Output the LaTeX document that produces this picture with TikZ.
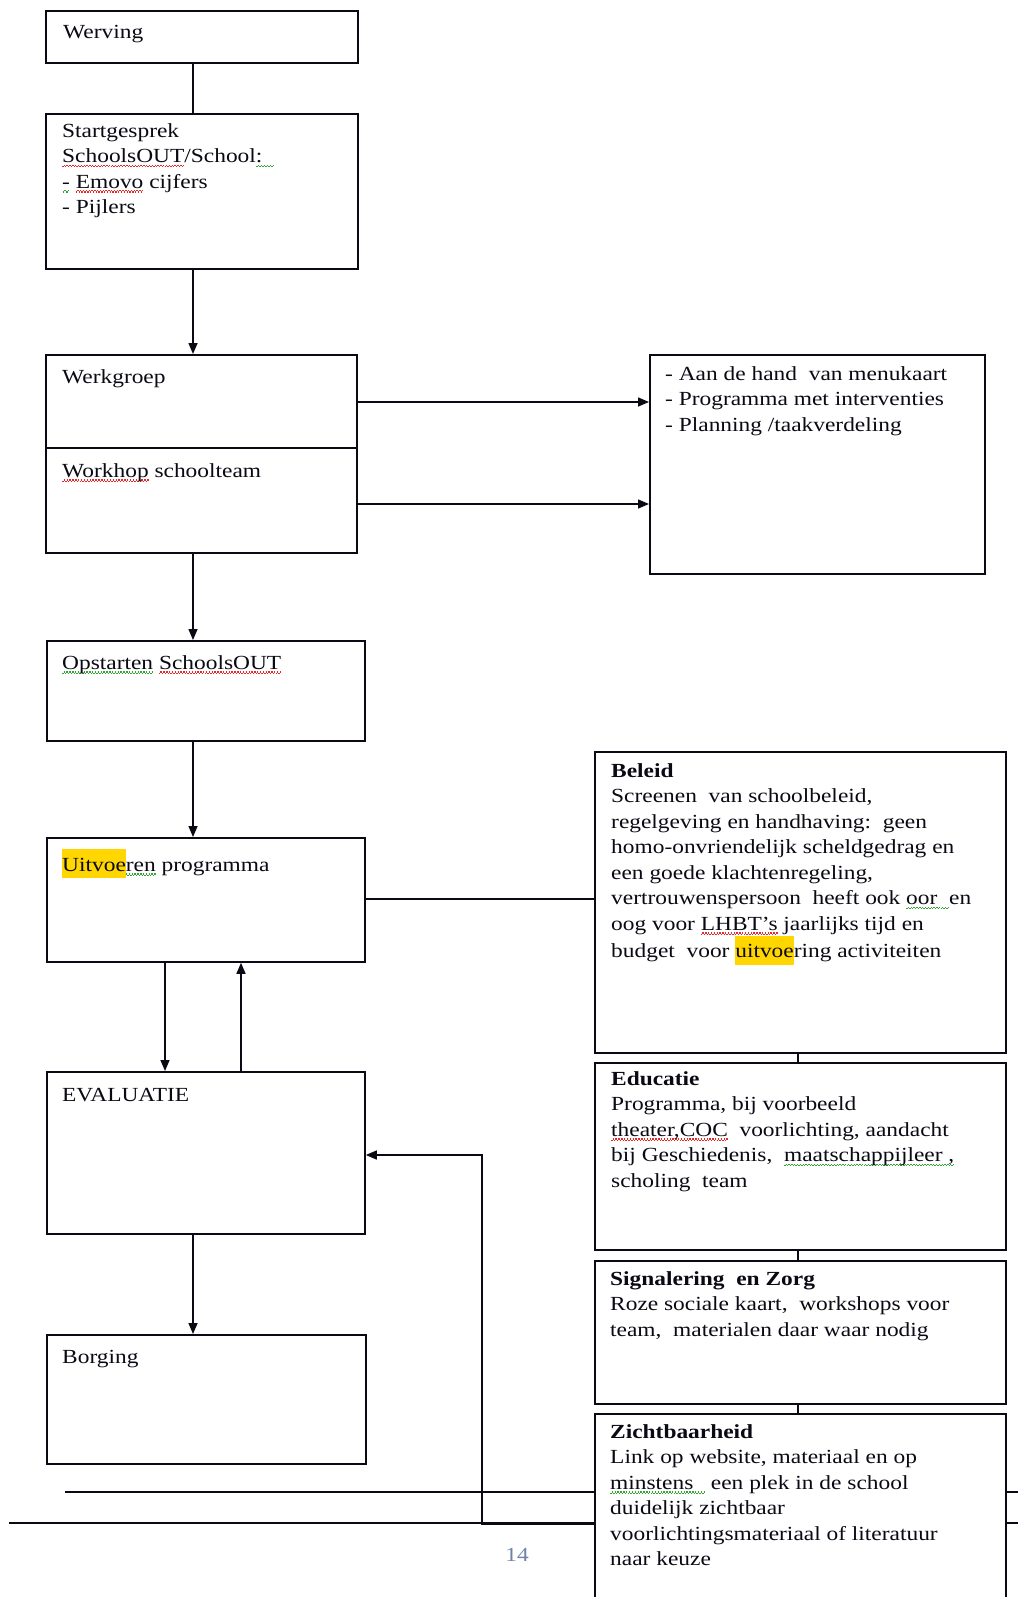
\documentclass[tikz,border=0pt]{standalone}
\usepackage{fontspec}
\setmainfont[FakeStretch=1.17]{Liberation Serif}
\usetikzlibrary{arrows.meta,calc}
\definecolor{hlc}{RGB}{255,214,0}
\definecolor{ink}{RGB}{10,10,20}
\definecolor{sqr}{RGB}{230,40,40}
\definecolor{sqg}{RGB}{50,165,50}
\definecolor{pgnum}{RGB}{110,130,170}
\newsavebox\hlbox
\newsavebox\sqbox
\newcommand\hlmark[1]{\sbox\hlbox{#1}{\color{hlc}\rule[-7pt]{\wd\hlbox}{29pt}}\kern-\wd\hlbox\usebox\hlbox}
\newcommand\squig[2]{\sbox\sqbox{#2}\rlap{\color{#1}\raisebox{-4.5pt}{\hbox to\wd\sqbox{\xleaders\hbox{\rule{1.4pt}{1.2pt}\raisebox{1.2pt}{\rule{1.4pt}{1.2pt}}}\hfill}}}\usebox\sqbox}
\newcommand\mybox[5]{\node[box, minimum width=#4pt, minimum height=#5pt] (#1) at (#2,#3) {};}
\newcommand\mytext[4]{\node[txt] (#1) at (#2,#3-17.85) {\strut #4};}
\begin{document}
\begin{tikzpicture}[x=1pt,y=-1pt,
  box/.style={draw=ink, line width=1.8pt, fill=white, anchor=north west, inner sep=0pt, rectangle},
  txt/.style={anchor=north west, inner sep=0pt, align=left, font=\fontsize{20}{25.5}\selectfont, text=ink},
  conn/.style={draw=ink, line width=1.5pt},
  arr/.style={conn, -{Triangle[length=11pt,width=9pt]}},
]
\useasboundingbox (0,0) rectangle (1018,1597);
\clip (0,0) rectangle (1018,1597);
% page footer rules
\draw[conn] (65,1492) -- (1018,1492);
\draw[conn] (9,1523) -- (1018,1523);
% boxes
\mybox{werving}{45}{10}{312}{52}
\mybox{start}{45}{113}{312}{155}
\mybox{werkgroep}{45}{354}{311}{93}
\mybox{workhop}{45}{447}{311}{105}
\mybox{menu}{649}{354}{335}{219}
\mybox{opstarten}{46}{640}{318}{100}
\mybox{uitvoeren}{46}{837}{318}{124}
\mybox{evaluatie}{46}{1071}{318}{162}
\mybox{borging}{46}{1334}{319}{129}
\mybox{beleid}{594}{751}{411}{301}
\mybox{educatie}{594}{1062}{411}{187}
\mybox{signalering}{594}{1260}{411}{143}
\mybox{zicht}{594}{1413}{411}{230}
% texts
\mytext{werving-t}{63}{38}{Werving}
\mytext{start-t}{62}{137}{Startgesprek\\\squig{sqr}{SchoolsOUT}/School\squig{sqg}{:\ \ }\\\squig{sqg}{-} \squig{sqr}{Emovo} cijfers\\- Pijlers}
\mytext{werkgroep-t}{62}{383}{Werkgroep}
\mytext{workhop-t}{62}{477}{\squig{sqr}{Workhop} schoolteam}
\mytext{menu-t}{665}{380}{- Aan de hand\ \ van menukaart\\- Programma met interventies\\- Planning /taakverdeling}
\mytext{opstarten-t}{62}{669}{\squig{sqg}{Opstarten} \squig{sqr}{SchoolsOUT}}
\mytext{uitvoeren-t}{62}{867}{\squig{sqg}{\hlmark{Uitvoe}ren} programma}
\mytext{evaluatie-t}{62}{1101}{EVALUATIE}
\mytext{borging-t}{62}{1363}{Borging}
\mytext{beleid-t}{611}{777}{\textbf{Beleid}\\Screenen\ \ van schoolbeleid,\\regelgeving en handhaving:\ \ geen\\homo-onvriendelijk scheldgedrag en\\een goede klachtenregeling,\\vertrouwenspersoon\ \ heeft ook \squig{sqg}{oor\ \ }en\\oog voor \squig{sqr}{LHBT's} jaarlijks tijd en\\budget\ \ voor \hlmark{uitvoe}ring activiteiten}
\mytext{educatie-t}{611}{1085}{\textbf{Educatie}\\Programma, bij voorbeeld\\\squig{sqr}{theater,COC}\ \ voorlichting, aandacht\\bij Geschiedenis,\ \ \squig{sqg}{maatschappijleer ,}\\scholing\ \ team}
\mytext{signalering-t}{610}{1285}{\textbf{Signalering\ \ en Zorg}\\Roze sociale kaart,\ \ workshops voor\\team,\ \ materialen daar waar nodig}
\mytext{zicht-t}{610}{1438}{\textbf{Zichtbaarheid}\\Link op website, materiaal en op\\\squig{sqg}{minstens\ \ }\ een plek in de school\\duidelijk zichtbaar\\voorlichtingsmateriaal of literatuur\\naar keuze}
\node[font=\fontsize{20}{22}\selectfont, text=pgnum, inner sep=0pt] (pnum) at (517,1555) {14};
% connectors
\coordinate (c1) at (193,0);
\coordinate (c2) at (165,0);
\coordinate (c3) at (241,0);
\coordinate (c4) at (798,0);
\coordinate (r1) at (0,402);
\coordinate (r2) at (0,504);
\coordinate (r3) at (0,899);
\coordinate (r4) at (0,1155);
\coordinate (fb) at (482,1524.5);
\draw[conn] (werving.south -| c1) -- (start.north -| c1);
\draw[arr] (start.south -| c1) -- (werkgroep.north -| c1);
\draw[arr] (werkgroep.east |- r1) -- (menu.west |- r1);
\draw[arr] (workhop.east |- r2) -- (menu.west |- r2);
\draw[arr] (workhop.south -| c1) -- (opstarten.north -| c1);
\draw[arr] (opstarten.south -| c1) -- (uitvoeren.north -| c1);
\draw[arr] (uitvoeren.south -| c2) -- (evaluatie.north -| c2);
\draw[arr] (evaluatie.north -| c3) -- (uitvoeren.south -| c3);
\draw[conn] (uitvoeren.east |- r3) -- (beleid.west |- r3);
\draw[arr] (evaluatie.south -| c1) -- (borging.north -| c1);
\draw[conn] (beleid.south -| c4) -- (educatie.north -| c4);
\draw[conn] (educatie.south -| c4) -- (signalering.north -| c4);
\draw[conn] (signalering.south -| c4) -- (zicht.north -| c4);
\draw[arr] (zicht.west |- fb) -- (fb) -- (fb |- r4) -- (evaluatie.east |- r4);
\end{tikzpicture}
\end{document}
